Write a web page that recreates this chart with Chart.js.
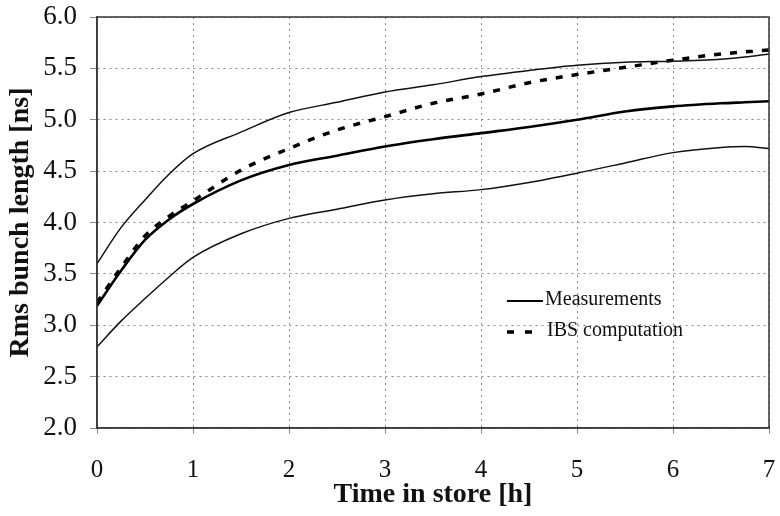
<!DOCTYPE html>
<html lang="en">
<head>
<meta charset="UTF-8">
<title>Rms bunch length vs time in store</title>
<script src="https://cdn.jsdelivr.net/npm/chart.js"></script>
<style>
    body { margin: 0; background: white; }
    #wrap { width: 780px; height: 516px; position: relative; }
</style>
</head>
<body>
<div id="wrap"><canvas id="chart"></canvas></div>
<script>
// time in store [h]
const timeH = [0, 0.25, 0.5, 0.75, 1, 1.5, 2, 2.5, 3, 3.5, 4, 4.5, 5, 5.5, 6, 6.5, 6.75, 7];
// measured rms bunch length [ns] - upper band, mean, lower band
const measUpper = [3.60, 3.95, 4.22, 4.47, 4.67, 4.88, 5.07, 5.17, 5.27, 5.34, 5.42, 5.48, 5.53, 5.56, 5.57, 5.59, 5.61, 5.64];
const measMean  = [3.19, 3.53, 3.83, 4.03, 4.18, 4.41, 4.56, 4.65, 4.74, 4.81, 4.87, 4.93, 5.00, 5.08, 5.13, 5.16, 5.17, 5.18];
const measLower = [2.79, 3.04, 3.26, 3.47, 3.66, 3.89, 4.04, 4.13, 4.22, 4.28, 4.32, 4.39, 4.48, 4.58, 4.68, 4.73, 4.74, 4.72];
// IBS computation
const ibsCalc   = [3.22, 3.56, 3.87, 4.06, 4.21, 4.51, 4.72, 4.90, 5.03, 5.16, 5.25, 5.36, 5.44, 5.51, 5.58, 5.64, 5.66, 5.68];

const legendItems = ['Measurements', 'IBS computation'];

const pts = arr => arr.map((v, i) => ({ x: timeH[i], y: v }));
const serif = '"Liberation Serif", "DejaVu Serif", serif';

// frame around the plot + legend inside it
const framePlugin = {
    id: 'frame',
    afterDraw(chart) {
        const { ctx, chartArea: a } = chart;
        ctx.save();
        ctx.strokeStyle = '#333';
        ctx.lineWidth = 1.5;
        ctx.strokeRect(a.left, a.top, a.right - a.left, a.bottom - a.top);

        // legend
        ctx.strokeStyle = '#000';
        ctx.fillStyle = '#111';
        ctx.font = '20px ' + serif;
        ctx.textBaseline = 'middle';
        ctx.lineWidth = 2;
        ctx.beginPath();
        ctx.moveTo(507, 301); ctx.lineTo(543, 301);
        ctx.stroke();
        ctx.fillText(legendItems[0], 545, 300);
        ctx.lineWidth = 3.5;
        ctx.setLineDash([7, 11]);
        ctx.beginPath();
        ctx.moveTo(507, 332); ctx.lineTo(540, 332);
        ctx.stroke();
        ctx.setLineDash([]);
        ctx.fillText(legendItems[1], 547, 331);
        ctx.restore();
    }
};

const thinLine = { borderColor: '#111', borderWidth: 1.5, pointRadius: 0, fill: false, cubicInterpolationMode: 'monotone' };

new Chart(document.getElementById('chart'), {
    type: 'line',
    data: {
        datasets: [
            Object.assign({ label: 'upper', data: pts(measUpper) }, thinLine),
            Object.assign({ label: 'lower', data: pts(measLower) }, thinLine),
            { label: legendItems[0], data: pts(measMean), borderColor: '#000', borderWidth: 2.6, pointRadius: 0, fill: false, cubicInterpolationMode: 'monotone' },
            { label: legendItems[1], data: pts(ibsCalc), borderColor: '#000', borderWidth: 3.5, borderDash: [7, 9], pointRadius: 0, fill: false, cubicInterpolationMode: 'monotone' }
        ]
    },
    options: {
        responsive: true,
        maintainAspectRatio: false,
        animation: false,
        layout: { padding: { top: 17, right: 11, left: 0, bottom: 0 } },
        plugins: { legend: { display: false }, tooltip: { enabled: false } },
        scales: {
            x: {
                type: 'linear',
                min: 0, max: 7,
                ticks: { stepSize: 1, color: '#111', padding: 21, font: { family: serif, size: 25 } },
                grid: { color: '#8a8a8a', lineWidth: 1, tickLength: 6 },
                border: { display: true, color: '#555', width: 1.5, dash: [2, 4] },
                title: { display: true, text: 'Time in store [h]', color: '#111', font: { family: serif, size: 28, weight: 'bold' }, padding: { top: 0, bottom: 4 } },
                afterFit(s) { s.height = 88; s.paddingLeft = 0; s.paddingRight = 0; }
            },
            y: {
                min: 2, max: 6,
                ticks: { stepSize: 0.5, color: '#111', padding: 13, callback: v => v.toFixed(1), font: { family: serif, size: 27 } },
                grid: { color: '#8a8a8a', lineWidth: 1, tickLength: 7 },
                border: { display: true, color: '#555', width: 1.5, dash: [2, 4] },
                title: { display: true, text: 'Rms bunch length [ns]', color: '#111', font: { family: serif, size: 28, weight: 'bold' }, padding: { top: 4, bottom: 0 } },
                afterFit(s) { s.width = 97; s.paddingTop = 0; s.paddingBottom = 0; }
            }
        }
    },
    plugins: [framePlugin]
});
</script>
</body>
</html>
